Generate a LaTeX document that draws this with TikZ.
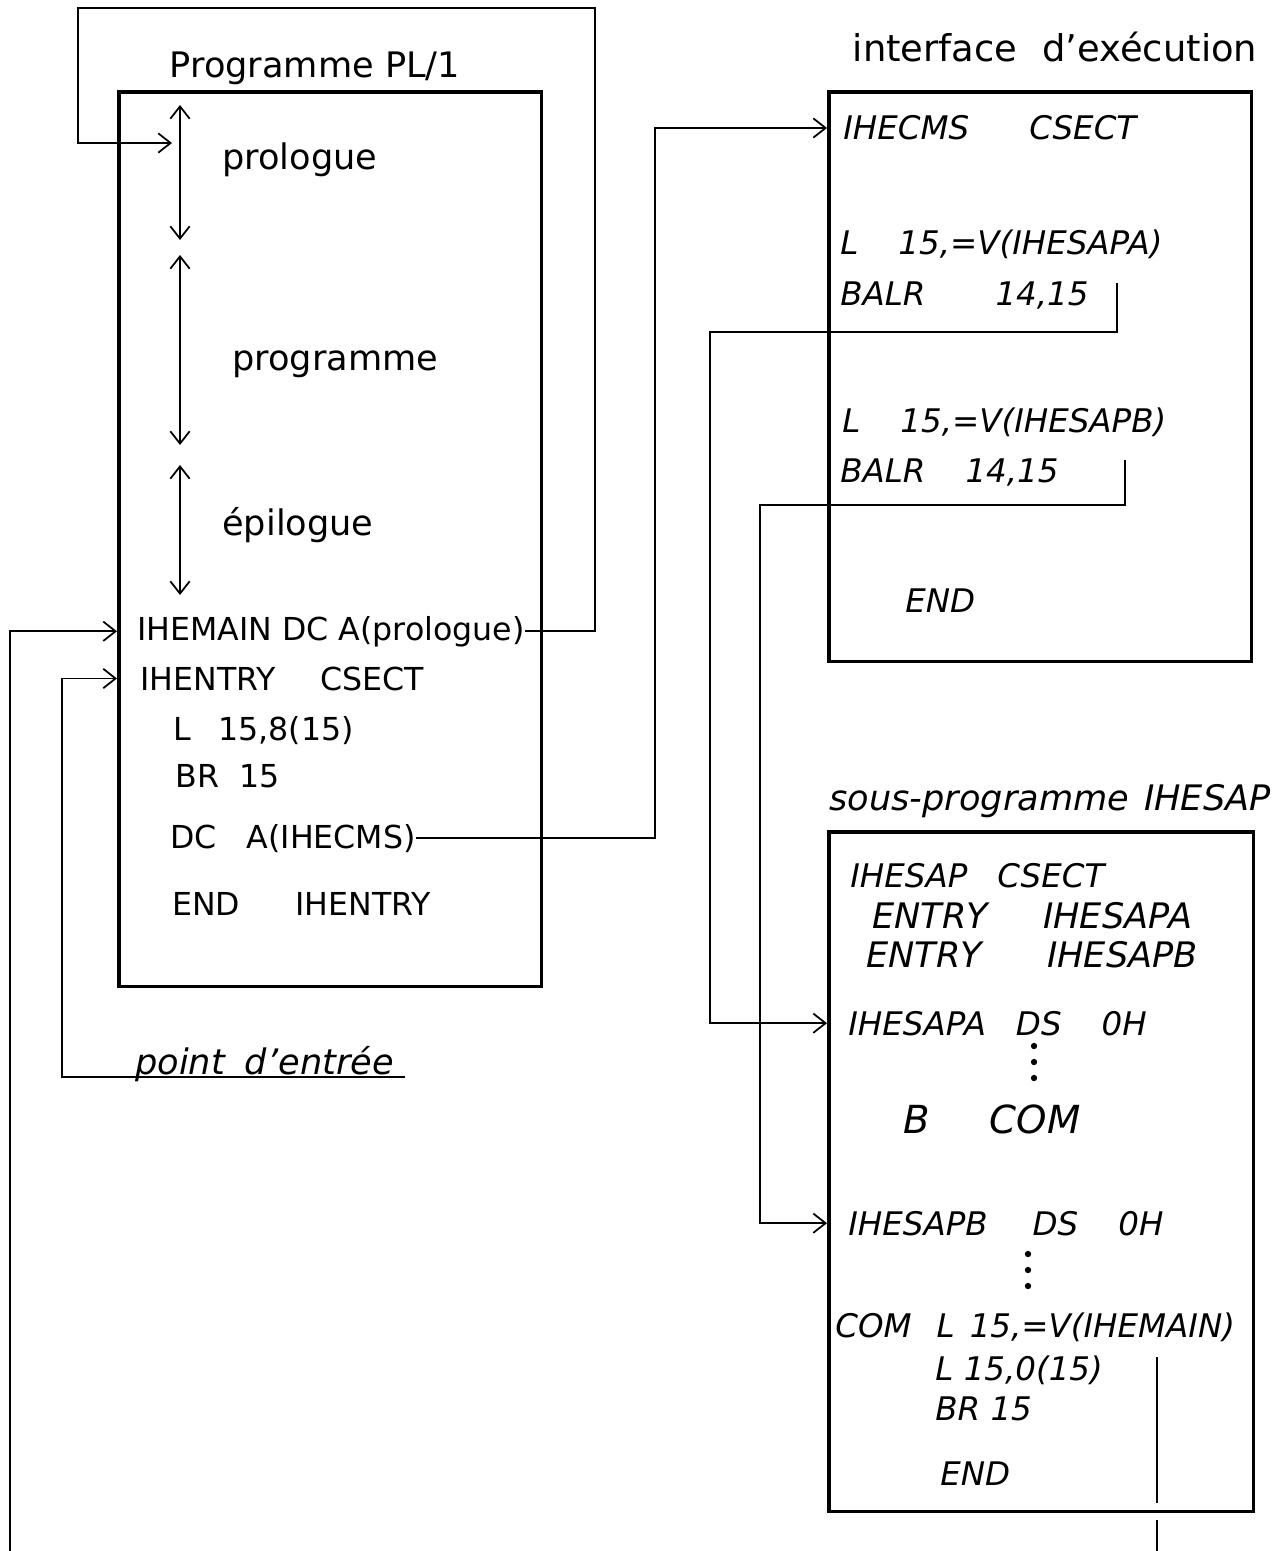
\documentclass[tikz,border=0pt]{standalone}
\usepackage{fontspec}
\setmainfont{DejaVu Sans}
\usetikzlibrary{arrows.meta}

\tikzset{
  box/.style={draw, line width=2pt, anchor=north west, inner sep=0pt},
  link/.style={line width=1pt},
  code/.style={anchor=base west, inner sep=0pt, font=\fontsize{18}{21}\selectfont},
  icode/.style={code, font=\fontsize{18.5}{21}\selectfont\itshape},
  part/.style={anchor=base west, inner sep=0pt, font=\fontsize{20}{24}\selectfont},
  title/.style={anchor=base, inner sep=0pt, font=\fontsize{20}{24}\selectfont},
}

\begin{document}
\begin{tikzpicture}[x=0.02cm, y=-0.02cm, >={Straight Barb[length=7pt,width=11pt]}]
\useasboundingbox (0,0) rectangle (1273,1551);

% the three boxes
\node[box, minimum width=8.46cm, minimum height=17.9cm] (pl1) at (117,90) {};
\node[box, minimum width=8.46cm, minimum height=11.4cm] (iface) at (827,90) {};
\node[box, minimum width=8.5cm, minimum height=13.6cm] (sap) at (827,830) {};

\node[title] (tpl1) at (315,78) {Programme PL/1};
\node[title, font=\fontsize{21}{24}\selectfont] (tiface) at (1055,62) {interface\hspace{0.5cm}d'exécution};
\node[title, font=\fontsize{20}{24}\selectfont\itshape] (tsap) at (1050,810) {sous-programme\hspace{0.3cm}IHESAP};

% parts of the PL/1 program
\draw[link, <->] (180,105) -- (180,240);
\draw[link, <->] (180,255) -- (180,445);
\draw[link, <->] (180,465) -- (180,595);
\node[part] (prologue) at (222,170) {prologue};
\node[part] (programme) at (232,370) {programme};
\node[part] (epilogue) at (222,535) {épilogue};

\node[code] (ihemain) at (137,640) {IHEMAIN DC A(prologue)};
\node[code] (ihentry) at (140,690) {IHENTRY\hspace{0.9cm}CSECT};
\node[code] (lentry) at (173,740) {L\hspace{0.55cm}15,8(15)};
\node[code] (brentry) at (175,787) {BR\hspace{0.4cm}15};
\node[code] (dcihecms) at (170,848) {DC\hspace{0.6cm}A(IHECMS)};
\node[code] (endentry) at (172,915) {END\hspace{1.1cm}IHENTRY};
\node[part, font=\fontsize{20}{24}\selectfont\itshape] (entree) at (135,1074) {point\hspace{0.4cm}d'entrée};

% interface
\node[icode] (ihecms) at (843,140) {IHECMS\hspace{1.2cm}CSECT};
\node[icode] (lsapa) at (840,255) {L\hspace{0.8cm}15,=V(IHESAPA)};
\node[icode] (balra) at (840,305) {BALR\hspace{1.4cm}14,15};
\node[icode] (lsapb) at (842,432) {L\hspace{0.8cm}15,=V(IHESAPB)};
\node[icode] (balrb) at (840,482) {BALR\hspace{0.8cm}14,15};
\node[icode] (endiface) at (905,612) {END};

% sous-programme
\node[icode] (ihesap) at (850,887) {IHESAP\hspace{0.6cm}CSECT};
\node[icode, font=\fontsize{20}{24}\selectfont\itshape] (entrya) at (872,928) {ENTRY\hspace{1.1cm}IHESAPA};
\node[icode, font=\fontsize{20}{24}\selectfont\itshape] (entryb) at (866,967) {ENTRY\hspace{1.3cm}IHESAPB};
\node[icode] (ihesapa) at (848,1035) {IHESAPA\hspace{0.6cm}DS\hspace{0.8cm}0H};
\node[icode, font=\fontsize{22}{26}\selectfont\itshape] (bcom) at (903,1133) {B\hspace{1.2cm}COM};
\node[icode] (ihesapb) at (848,1235) {IHESAPB\hspace{0.9cm}DS\hspace{0.8cm}0H};
\node[icode] (com) at (835,1337) {COM\hspace{0.5cm}L\hspace{0.3cm}15,=V(IHEMAIN)};
\node[icode] (lret) at (935,1380) {L 15,0(15)};
\node[icode] (brret) at (935,1420) {BR 15};
\node[icode] (endsap) at (940,1485) {END};
\foreach \y in {1046,1062,1078} \fill (1034,\y) circle (1.8pt);
\foreach \y in {1254,1270,1286} \fill (1028,\y) circle (1.8pt);

% connectors
\coordinate (loopR) at (595,8);
\coordinate (loopL) at (78,8);
\coordinate (protip) at (172,143);
\draw[link, ->] (ihemain.east) -| (loopR) -- (loopL) |- (protip);

\coordinate (botL) at (10,1551);
\draw[link, ->] (botL) |- (pl1.west |- ihemain.west);

\coordinate (entreeR) at (405,1077);
\coordinate (entreeL) at (62,1077);
\draw[link, ->] (entreeR) -- (entreeL) |- (pl1.west |- ihentry.west);

\coordinate (jogI) at (655,128);
\draw[link, ->] (dcihecms.east) -| (jogI) -- (iface.west |- jogI);

\coordinate (callA) at (1117,283);
\coordinate (jogA) at (710,332);
\draw[link, ->] (callA) |- (jogA) |- (sap.west |- ihesapa.west);

\coordinate (callB) at (1125,460);
\coordinate (jogB) at (760,505);
\draw[link, ->] (callB) |- (jogB) |- (sap.west |- ihesapb.west);

\coordinate (retA) at (1157,1357);
\coordinate (retB) at (1157,1503);
\coordinate (retC) at (1157,1520);
\coordinate (retD) at (1157,1551);
\draw[link] (retA) -- (retB);
\draw[link] (retC) -- (retD);
\end{tikzpicture}
\end{document}
